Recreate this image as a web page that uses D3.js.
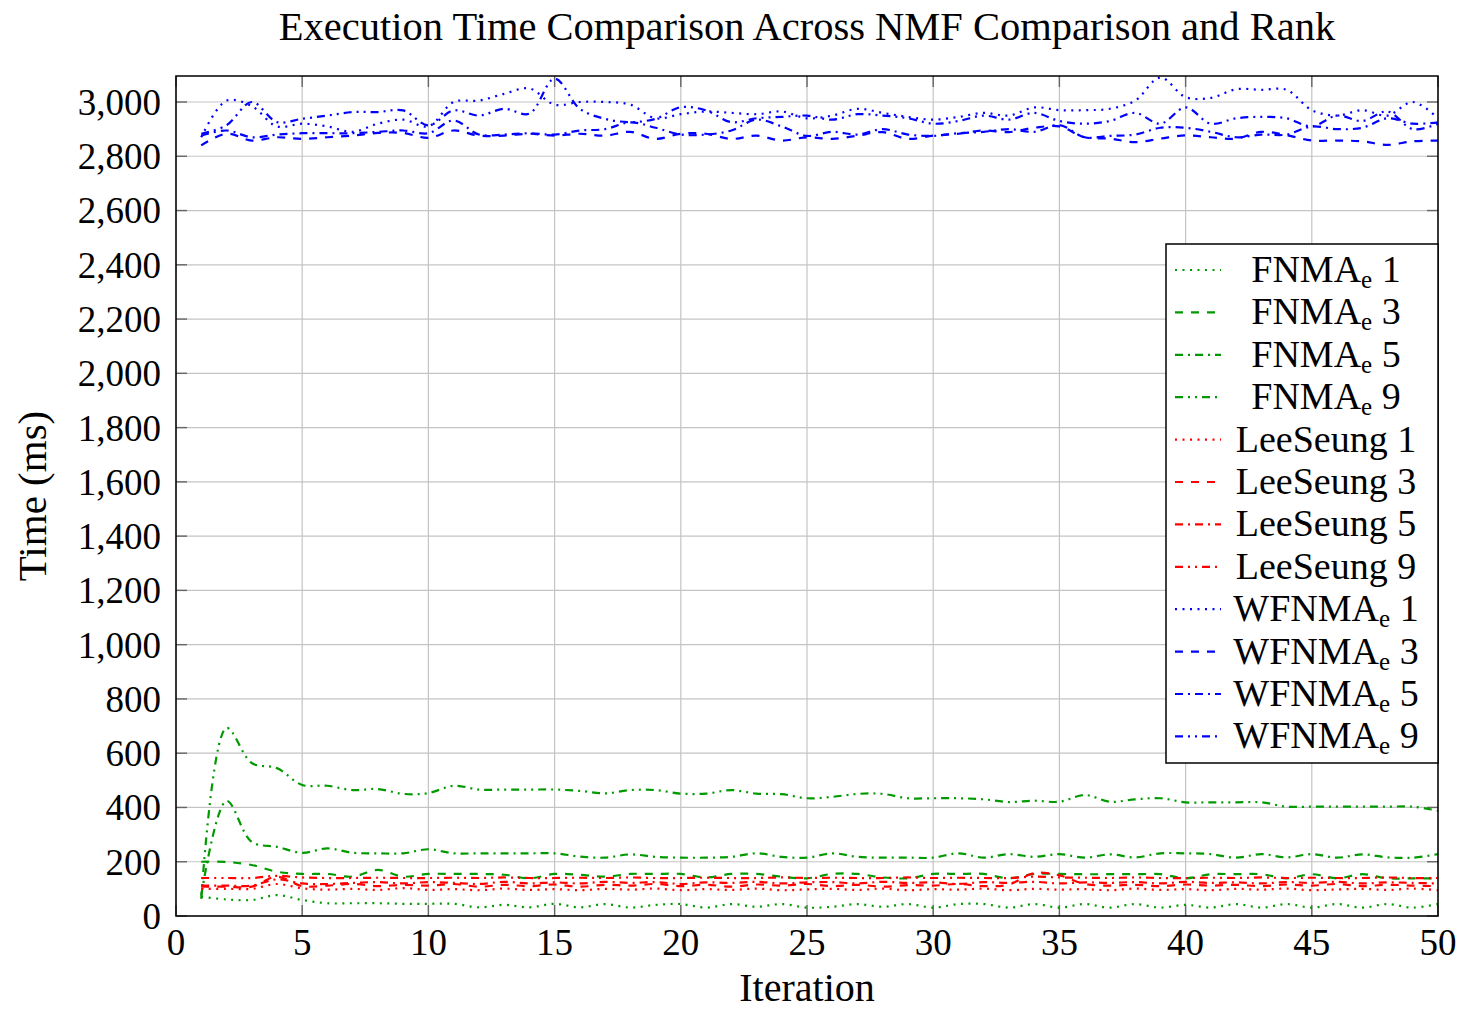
<!DOCTYPE html>
<html><head><meta charset="utf-8">
<script src="https://cdn.jsdelivr.net/npm/d3@7"></script>
<style>body{margin:0;background:#fff}svg{display:block}</style>
</head><body><svg id="c" width="1461" height="1011"></svg>
<script>
const iterations = d3.range(1, 51);
const xTicks = [0,5,10,15,20,25,30,35,40,45,50];
const yTicks = [0,200,400,600,800,1000,1200,1400,1600,1800,2000,2200,2400,2600,2800,3000];

const fnma1 = [71,61,59,77,59,47,47,47,45,45,45,32,41,32,45,32,44,31,41,44,31,44,34,44,31,34,44,34,44,31,44,44,31,44,31,44,31,44,31,41,31,44,31,44,31,44,31,44,31,44];
const fnma3 = [200,199,188,163,155,155,145,170,145,155,155,155,152,139,155,152,145,155,155,155,142,155,155,145,139,155,155,142,139,155,155,155,139,155,155,154,154,154,154,139,154,154,154,139,154,139,154,139,139,139];
const fnma5 = [75,424,273,255,233,249,233,231,231,246,231,231,231,231,231,219,215,227,218,215,215,218,231,218,215,231,218,215,215,215,231,215,228,218,228,215,227,216,231,231,228,215,228,216,228,215,227,216,215,228];
const fnma9 = [63,693,564,545,483,480,464,468,450,453,480,466,466,466,466,461,452,464,464,451,451,464,451,449,434,439,450,450,434,434,434,430,420,425,421,446,421,430,434,419,419,419,419,403,403,403,403,403,403,388];
const lee1 = [100,100,100,118,102,97,100,96,103,96,99,95,101,96,99,95,100,97,101,95,99,96,101,95,98,100,96,101,95,99,97,101,95,100,97,99,95,101,96,99,95,100,97,101,95,98,100,96,101,95];
const lee3 = [108,108,108,145,110,112,118,110,115,112,118,108,115,110,116,108,115,112,118,110,115,108,116,112,118,110,115,108,114,112,118,110,116,158,150,118,112,115,110,116,112,115,110,116,112,118,110,115,112,110];
const lee5 = [112,112,112,135,120,118,122,125,120,125,122,118,126,120,124,120,126,122,125,118,124,122,126,120,124,125,120,126,122,124,118,125,122,126,120,124,122,125,120,126,122,124,120,125,122,126,120,124,122,120];
const lee9 = [140,140,140,148,142,140,140,141,140,140,141,140,142,140,140,141,140,142,140,140,141,140,140,142,140,141,140,140,142,140,141,140,140,145,142,141,140,142,140,140,141,140,142,140,141,140,140,142,140,140];
const wf1 = [2870,3005,2985,2910,2920,2910,2890,2920,2935,2910,3000,3005,3030,3050,2990,3000,3000,2990,2940,2955,2965,2960,2955,2965,2940,2950,2975,2960,2945,2935,2945,2960,2950,2980,2970,2970,2975,3005,3090,3018,3015,3047,3045,3045,2970,2950,2970,2950,3000,2940];
const wf3 = [2840,2883,2858,2870,2864,2870,2876,2886,2886,2868,2895,2876,2876,2883,2876,2883,2876,2890,2864,2883,2883,2864,2876,2858,2870,2864,2876,2889,2864,2876,2883,2895,2889,2905,2910,2870,2865,2852,2865,2877,2870,2865,2890,2878,2858,2858,2855,2842,2855,2858];
const wf5 = [2876,2895,2870,2880,2885,2885,2885,2890,2895,2885,2932,2880,2880,2885,2880,2895,2900,2925,2905,2880,2880,2895,2935,2910,2875,2890,2880,2900,2880,2875,2885,2890,2900,2890,2915,2870,2875,2880,2905,2905,2890,2870,2880,2880,2910,2900,2905,2940,2920,2925];
const wf9 = [2883,2914,3000,2926,2938,2950,2963,2963,2969,2914,2969,2950,2975,2957,3086,2975,2938,2926,2938,2981,2969,2926,2940,2945,2950,2935,2955,2950,2940,2920,2930,2950,2935,2960,2930,2920,2930,2960,2920,2980,2920,2940,2945,2940,2910,2950,2930,2965,2900,2920];

const seriesNames = ["FNMA_e 1","FNMA_e 3","FNMA_e 5","FNMA_e 9","LeeSeung 1","LeeSeung 3","LeeSeung 5","LeeSeung 9","WFNMA_e 1","WFNMA_e 3","WFNMA_e 5","WFNMA_e 9"];
const seriesValues = [fnma1,fnma3,fnma5,fnma9,lee1,lee3,lee5,lee9,wf1,wf3,wf5,wf9];
const seriesColors = ["#009a00","#009a00","#009a00","#009a00","#ff0000","#ff0000","#ff0000","#ff0000","#0000ff","#0000ff","#0000ff","#0000ff"];
const styleKeys = ["dotted","dashed","dashdot","dashdotdot"];
const dashes = {dotted:"2 5.5", dashed:"8 8", dashdot:"8 5 2 5", dashdotdot:"8 5 2 5 2 5"};

const FONT = "'Liberation Serif','Times New Roman',serif";
const svg = d3.select("#c");
const L = 176, R = 1438, T = 76, B = 916;
const x = d3.scaleLinear().domain([0,50]).range([L,R]);
const y = d3.scaleLinear().domain([0,3100]).range([B, B - 3100*(814/3000)]);

// grid
const g = svg.append("g");
g.selectAll(".gx").data(xTicks).join("line").attr("x1",d=>x(d)).attr("x2",d=>x(d)).attr("y1",T).attr("y2",B).attr("stroke","#c4c4c4").attr("stroke-width",1.2);
g.selectAll(".gy").data(yTicks).join("line").attr("x1",L).attr("x2",R).attr("y1",d=>y(d)).attr("y2",d=>y(d)).attr("stroke","#c4c4c4").attr("stroke-width",1.2);
// ticks inward both sides
const tk = 11;
g.selectAll(".tb").data(xTicks).join("line").attr("x1",d=>x(d)).attr("x2",d=>x(d)).attr("y1",B).attr("y2",B-tk).attr("stroke","#666").attr("stroke-width",1.4);
g.selectAll(".tt").data(xTicks).join("line").attr("x1",d=>x(d)).attr("x2",d=>x(d)).attr("y1",T).attr("y2",T+tk).attr("stroke","#666").attr("stroke-width",1.4);
g.selectAll(".tl").data(yTicks).join("line").attr("x1",L).attr("x2",L+tk).attr("y1",d=>y(d)).attr("y2",d=>y(d)).attr("stroke","#666").attr("stroke-width",1.4);
g.selectAll(".tr").data(yTicks).join("line").attr("x1",R).attr("x2",R-tk).attr("y1",d=>y(d)).attr("y2",d=>y(d)).attr("stroke","#666").attr("stroke-width",1.4);

// lines
const line = d3.line().x((d,i)=>x(iterations[i])).y(d=>y(d)).curve(d3.curveCatmullRom.alpha(0.5));
svg.append("clipPath").attr("id","pc").append("rect").attr("x",L).attr("y",T).attr("width",R-L).attr("height",B-T);
const lg = svg.append("g").attr("clip-path","url(#pc)");
seriesValues.forEach((vals,i)=>{
  lg.append("path").attr("d",line(vals)).attr("fill","none").attr("stroke",seriesColors[i]).attr("stroke-width",2.2)
    .attr("stroke-dasharray",dashes[styleKeys[i%4]]);
});

// axes box
svg.append("rect").attr("x",L).attr("y",T).attr("width",R-L).attr("height",B-T).attr("fill","none").attr("stroke","#000").attr("stroke-width",1.5);

// tick labels
const fmt = d3.format(",");
svg.selectAll(".yl").data(yTicks).join("text").attr("x",L-15).attr("y",d=>y(d)).attr("dy","0.35em").attr("text-anchor","end")
  .attr("font-family",FONT).attr("font-size",37).text(d=>fmt(d));
svg.selectAll(".xl").data(xTicks).join("text").attr("x",d=>x(d)).attr("y",B+39).attr("text-anchor","middle")
  .attr("font-family",FONT).attr("font-size",37).text(d=>d);

// titles
svg.append("text").attr("x",807).attr("y",40).attr("text-anchor","middle").attr("font-family",FONT).attr("font-size",40.5)
  .text("Execution Time Comparison Across NMF Comparison and Rank");
svg.append("text").attr("x",807).attr("y",1001).attr("text-anchor","middle").attr("font-family",FONT).attr("font-size",40).text("Iteration");
svg.append("text").attr("transform","translate(46,496) rotate(-90)").attr("text-anchor","middle").attr("font-family",FONT).attr("font-size",41).text("Time (ms)");

// legend
const lgx = 1166, lgy = 244, lgw = 272, lgh = 519;
svg.append("rect").attr("x",lgx).attr("y",lgy).attr("width",lgw).attr("height",lgh).attr("fill","#fff").attr("stroke","#000").attr("stroke-width",1.5);
seriesNames.forEach((nm,i)=>{
  const cy = 270 + i*42.4;
  svg.append("line").attr("x1",1175).attr("x2",1221).attr("y1",cy).attr("y2",cy).attr("stroke",seriesColors[i]).attr("stroke-width",2.2)
    .attr("stroke-dasharray",dashes[styleKeys[i%4]]);
  const t = svg.append("text").attr("x",1326).attr("y",cy+12).attr("text-anchor","middle").attr("font-family",FONT).attr("font-size",38);
  if (nm.includes("_e")) {
    const parts = nm.split("_e");
    t.append("tspan").text(parts[0]);
    t.append("tspan").attr("font-size",25).attr("dy",6).text("e");
    t.append("tspan").attr("dy",-6).text(parts[1]);
  } else t.text(nm);
});
</script></body></html>
